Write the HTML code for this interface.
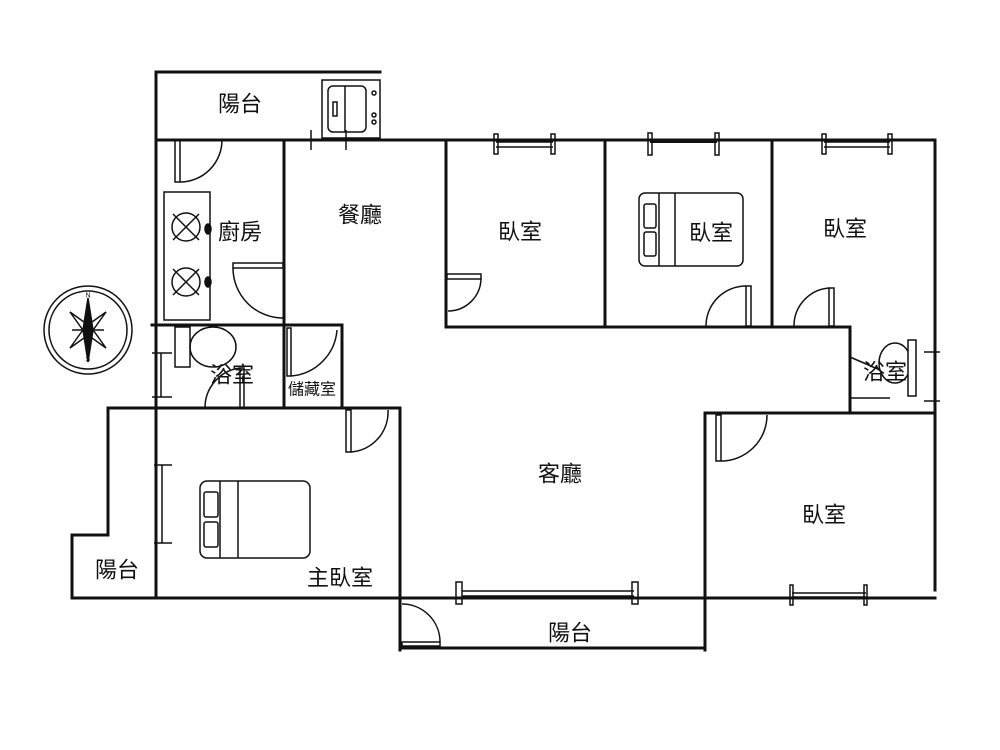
<!DOCTYPE html>
<html><head><meta charset="utf-8"><style>
html,body{margin:0;padding:0;background:#fff}
svg{display:block}
text{font-family:"Liberation Sans","Noto Sans CJK TC",sans-serif;font-size:22px;fill:#111;text-anchor:middle;dominant-baseline:central}
</style></head><body>
<svg width="1000" height="750" viewBox="0 0 1000 750">
<g stroke="#111" stroke-width="3" fill="none" stroke-linecap="square">
<!-- top balcony -->
<path d="M156 140V72H380"/>
<path d="M156 140H935V590"/>
<path d="M156 140V598"/>
<path d="M284 140V408"/>
<path d="M152 325H342V408"/>
<path d="M446 140V327H850V413H935"/>
<path d="M605 140V327M772 140V327"/>
<path d="M705 413H850M705 413V650"/>
<path d="M108 408H400V650"/>
<path d="M108 408V535H72V598H935"/>
<path d="M400 648H705"/>
</g>
<g stroke="#111" stroke-width="1.5" fill="none">
<!-- washer -->
<rect x="322" y="80" width="58" height="58" fill="#fff"/>
<rect x="328" y="86" width="38" height="46" rx="5"/>
<line x1="345" y1="86" x2="345" y2="132"/>
<rect x="333" y="102" width="4" height="14"/>
<circle cx="374" cy="93" r="2"/><circle cx="374" cy="115" r="2"/><circle cx="374" cy="122" r="2"/>
<line x1="311" y1="130" x2="311" y2="150"/><line x1="346" y1="130" x2="346" y2="150"/>
<!-- kitchen door -->
<rect x="175" y="140" width="5" height="42"/><path d="M180 182A42 42 0 0 0 222 140"/>
<!-- stove -->
<rect x="164" y="192" width="46" height="128"/>
<circle cx="186" cy="227" r="14"/><path d="M173 214L199 240M199 214L173 240"/>
<circle cx="186" cy="282" r="14"/><path d="M173 269L199 295M199 269L173 295"/>
<ellipse cx="208" cy="229" rx="3" ry="5" fill="#111"/><ellipse cx="208" cy="282" rx="3" ry="5" fill="#111"/>
<!-- kitchen side door -->
<rect x="233" y="263" width="50" height="5"/><path d="M233 268A50 50 0 0 0 283 318"/>
<!-- bath toilet -->
<rect x="175" y="327" width="15" height="40"/><ellipse cx="213" cy="347" rx="23" ry="20"/>
<path d="M152 353H172M152 397H172M161 353V397"/>
<path d="M205 408A40 40 0 0 1 240 368"/><rect x="240" y="368" width="4" height="40"/>
<!-- storage door -->
<rect x="287" y="328" width="4" height="48"/><path d="M291 376A50 50 0 0 0 337 330"/>
<!-- bedroom windows -->
<path d="M496 142H553M496 147H553"/><rect x="494" y="134" width="4" height="20"/><rect x="551" y="134" width="4" height="20"/>
<path d="M650 141H717" stroke-width="4"/><rect x="648" y="133" width="4" height="22"/><rect x="715" y="133" width="4" height="22"/>
<path d="M824 142H890M824 147H890"/><rect x="822" y="134" width="4" height="20"/><rect x="888" y="134" width="4" height="20"/>
<!-- bedroom doors -->
<rect x="447" y="274" width="34" height="5"/><path d="M481 279A33 33 0 0 1 448 311"/>
<rect x="746" y="286" width="5" height="40"/><path d="M706 326A40 40 0 0 1 746 286"/>
<rect x="829" y="288" width="5" height="38"/><path d="M794 326A38 38 0 0 1 829 288"/>
<!-- bed 2 -->
<rect x="639" y="193" width="104" height="73" rx="6" fill="#fff"/>
<line x1="659" y1="193" x2="659" y2="266"/><line x1="675" y1="193" x2="675" y2="266"/>
<rect x="644" y="204" width="12" height="24" rx="2"/><rect x="644" y="232" width="12" height="24" rx="2"/>
<!-- right bath -->
<ellipse cx="895" cy="363" rx="16" ry="20"/><rect x="908" y="340" width="8" height="56" fill="#fff"/>
<path d="M850 357L880 370M850 398H890" />
<path d="M924 352H940M924 401H940M935 352V401"/>
<!-- master -->
<rect x="346" y="410" width="5" height="42"/><path d="M351 452A40 40 0 0 0 388 410"/>
<path d="M154 465H172M154 543H172M162 465V543" />
<rect x="200" y="481" width="110" height="77" rx="7" fill="#fff"/>
<line x1="220" y1="481" x2="220" y2="558"/><line x1="238" y1="481" x2="238" y2="558"/>
<rect x="204" y="492" width="14" height="25" rx="2"/><rect x="204" y="522" width="14" height="25" rx="2"/>
<!-- living window -->
<path d="M462 591H634M462 596H634"/><rect x="456" y="582" width="6" height="22"/><rect x="632" y="582" width="6" height="22"/>
<path d="M792 593H866M792 597H866"/><rect x="790" y="585" width="3" height="20"/><rect x="864" y="585" width="3" height="20"/>
<!-- right bedroom door -->
<rect x="716" y="415" width="5" height="46"/><path d="M721 461A46 46 0 0 0 767 415"/>
<!-- balcony door -->
<rect x="402" y="642" width="38" height="4"/><path d="M402 604A38 38 0 0 1 440 642"/>
<!-- compass -->
<circle cx="88" cy="330" r="44"/><circle cx="88" cy="330" r="39"/>
<path d="M88 298L93 330L88 362L83 330Z" fill="#111"/>
<path d="M70 312L91 327L106 348L85 333Z M106 312L91 333L70 348L85 327Z" fill="none"/>
<path d="M72 330H104"/>
</g>
<text x="88" y="296" style="font-size:7px">N</text><text x="88" y="360" style="font-size:7px">S</text>
<text x="240" y="104">陽台</text>
<text x="240" y="232">廚房</text>
<text x="360" y="215">餐廳</text>
<text x="520" y="232">臥室</text>
<text x="711" y="233">臥室</text>
<text x="845" y="229">臥室</text>
<text x="232" y="375">浴室</text>
<text x="312" y="390" style="font-size:16px">儲藏室</text>
<text x="885" y="372">浴室</text>
<text x="560" y="474">客廳</text>
<text x="824" y="515">臥室</text>
<text x="340" y="578">主臥室</text>
<text x="117" y="570">陽台</text>
<text x="570" y="633">陽台</text>
</svg>
</body></html>
